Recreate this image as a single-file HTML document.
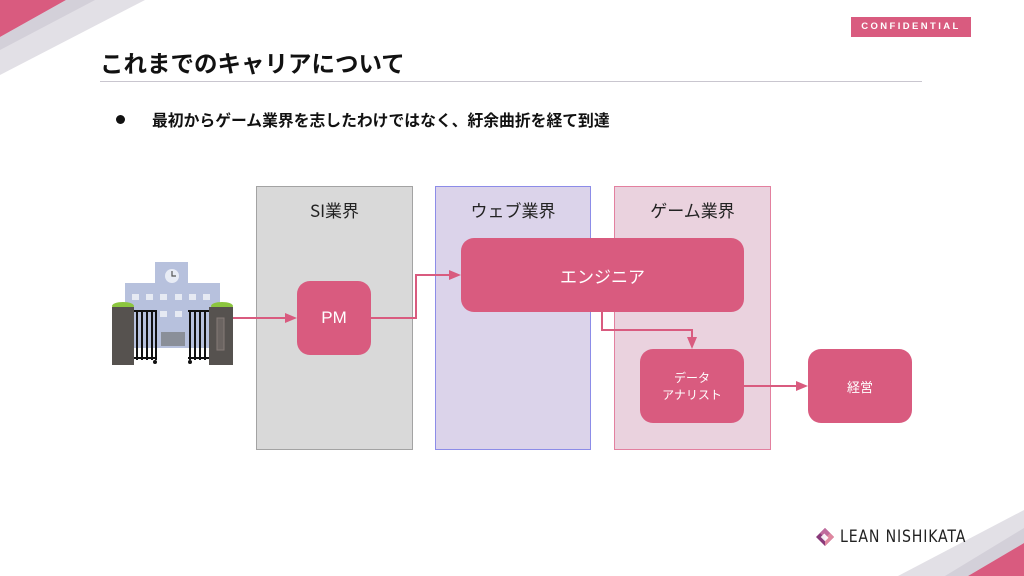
<!DOCTYPE html>
<html><head><meta charset="utf-8">
<style>
html,body{margin:0;padding:0;}
body{width:1024px;height:576px;position:relative;overflow:hidden;background:#fff;font-family:"Liberation Sans","Noto Sans CJK JP",sans-serif;}
.abs{position:absolute;}
.title{left:100px;top:45px;font-size:23.5px;font-weight:bold;color:#111;letter-spacing:0px;white-space:nowrap;font-family:"Noto Sans CJK JP",sans-serif;}
.rule{left:100px;top:81px;width:822px;height:1px;background:#c9c6cf;}
.bullet{left:116px;top:115px;width:9px;height:9px;border-radius:50%;background:#111;}
.btext{left:152px;top:108px;font-size:15.8px;font-weight:bold;color:#111;white-space:nowrap;font-family:"Noto Sans CJK JP",sans-serif;}
.conf{left:851px;top:17px;width:120px;height:20px;background:#d95b7f;color:#fff;font-size:9.5px;font-weight:bold;letter-spacing:2.4px;text-align:center;line-height:20px;}
.lane{box-sizing:border-box;}
.lbl{font-size:17px;color:#222;text-align:center;white-space:nowrap;font-family:"Noto Sans CJK JP",sans-serif;}
.node{background:#d95b7f;color:#fff;border-radius:13px;display:flex;align-items:center;justify-content:center;text-align:center;font-family:"Noto Sans CJK JP",sans-serif;}
.logo{left:840px;top:527px;font-size:17px;letter-spacing:1px;color:#222;white-space:nowrap;font-family:"DejaVu Sans","Liberation Sans",sans-serif;transform:scaleX(0.83);transform-origin:0 0;}
</style></head><body>

<svg class="abs" style="left:0;top:0" width="1024" height="576">
  <polygon points="0,0 145,0 0,75" fill="#e2e0e6"/>
  <polygon points="0,0 66,0 0,37" fill="#d95b7f"/>
  <polygon points="0,37 66,0 95,0 0,50" fill="#c9c5d0" opacity="0.6"/>
  <polygon points="1024,510 1024,576 898,576" fill="#e2e0e6"/>
  <polygon points="1024,543 1024,576 968,576" fill="#d95b7f"/>
  <polygon points="1024,528 1024,543 968,576 945,576" fill="#c9c5d0" opacity="0.6"/>
</svg>

<div class="abs conf">CONFIDENTIAL</div>
<div class="abs title">これまでのキャリアについて</div>
<div class="abs rule"></div>
<div class="abs bullet"></div>
<div class="abs btext">最初からゲーム業界を志したわけではなく、紆余曲折を経て到達</div>

<div class="abs lane" style="left:256px;top:186px;width:157px;height:264px;background:#d9d9d9;border:1px solid #a3a3a3;"></div>
<div class="abs lane" style="left:435px;top:186px;width:156px;height:264px;background:#dbd3ea;border:1px solid #8c8ce8;"></div>
<div class="abs lane" style="left:614px;top:186px;width:157px;height:264px;background:#ead2de;border:1px solid #e3809f;"></div>

<div class="abs lbl" style="left:256px;top:197px;width:157px;">SI業界</div>
<div class="abs lbl" style="left:435px;top:197px;width:156px;">ウェブ業界</div>
<div class="abs lbl" style="left:614px;top:197px;width:157px;">ゲーム業界</div>

<div class="abs node" style="left:297px;top:281px;width:74px;height:74px;font-size:17px;font-family:'Liberation Sans',sans-serif;">PM</div>
<div class="abs node" style="left:461px;top:238px;width:283px;height:74px;font-size:17px;">エンジニア</div>
<div class="abs node" style="left:640px;top:349px;width:104px;height:74px;font-size:12px;line-height:17px;">データ<br>アナリスト</div>
<div class="abs node" style="left:808px;top:349px;width:104px;height:74px;font-size:13px;">経営</div>

<svg class="abs" style="left:0;top:0" width="1024" height="576">
  <g stroke="#d95b7f" stroke-width="2" fill="none">
    <polyline points="233,318 288,318"/>
    <polyline points="371,318 416,318 416,275 452,275"/>
    <polyline points="602,312 602,330 692,330 692,340"/>
    <polyline points="744,386 799,386"/>
  </g>
  <g fill="#d95b7f">
    <polygon points="297,318 285,313 285,323"/>
    <polygon points="461,275 449,270 449,280"/>
    <polygon points="692,349 687,337 697,337"/>
    <polygon points="808,386 796,381 796,391"/>
  </g>

  <g>
    <rect x="155" y="262" width="33" height="24" fill="#b7c1dd"/>
    <circle cx="172" cy="276" r="7" fill="#e8ecf5"/>
    <path d="M172,271 L172,276 L176,276" stroke="#555" stroke-width="1.2" fill="none"/>
    <rect x="125" y="283" width="95" height="65" fill="#b7c1dd"/>
    <g fill="#e6eaf3">
      <rect x="132" y="294" width="7" height="6"/>
      <rect x="146" y="294" width="7" height="6"/>
      <rect x="160" y="294" width="7" height="6"/>
      <rect x="175" y="294" width="7" height="6"/>
      <rect x="189" y="294" width="7" height="6"/>
      <rect x="203" y="294" width="7" height="6"/>
      <rect x="160" y="311" width="7" height="6"/>
      <rect x="175" y="311" width="7" height="6"/>
    </g>
    <rect x="161" y="332" width="24" height="14" fill="#8a8f99"/>
    <ellipse cx="123" cy="306" rx="11" ry="4" fill="#8cc63f"/>
    <ellipse cx="222" cy="306" rx="11" ry="4" fill="#8cc63f"/>
    <rect x="112" y="307" width="22" height="58" fill="#56524f"/>
    <rect x="209" y="307" width="24" height="58" fill="#56524f"/>
    <rect x="217" y="318" width="7" height="32" fill="#6b6461" stroke="#857b77" stroke-width="1"/>
    <g stroke="#111" stroke-width="2">
      <line x1="134" y1="311" x2="157" y2="311"/>
      <line x1="134" y1="358" x2="157" y2="358"/>
      <line x1="137" y1="310" x2="137" y2="360"/>
      <line x1="142" y1="310" x2="142" y2="360"/>
      <line x1="147" y1="310" x2="147" y2="360"/>
      <line x1="152" y1="310" x2="152" y2="360"/>
      <line x1="156" y1="310" x2="156" y2="360"/>
      <line x1="188" y1="311" x2="209" y2="311"/>
      <line x1="188" y1="358" x2="209" y2="358"/>
      <line x1="190" y1="310" x2="190" y2="360"/>
      <line x1="195" y1="310" x2="195" y2="360"/>
      <line x1="200" y1="310" x2="200" y2="360"/>
      <line x1="205" y1="310" x2="205" y2="360"/>
    </g>
    <circle cx="155" cy="362" r="2" fill="#111"/>
    <circle cx="190" cy="362" r="2" fill="#111"/>
  </g>

  <g>
    <polygon points="816,537 825,528 834,537 825,546" fill="#8a3a7a"/>
    <polygon points="820,533 825,528 830,533 825,538" fill="#c06a9c"/>
    <polygon points="825,538 830,533 834,537 825,546" fill="#e0879f"/>
    <rect x="822" y="535" width="6" height="5" fill="#fff" transform="rotate(45 825 537)" opacity="0.9"/>
  </g>
</svg>

<div class="abs logo">LEAN NISHIKATA</div>

</body></html>
